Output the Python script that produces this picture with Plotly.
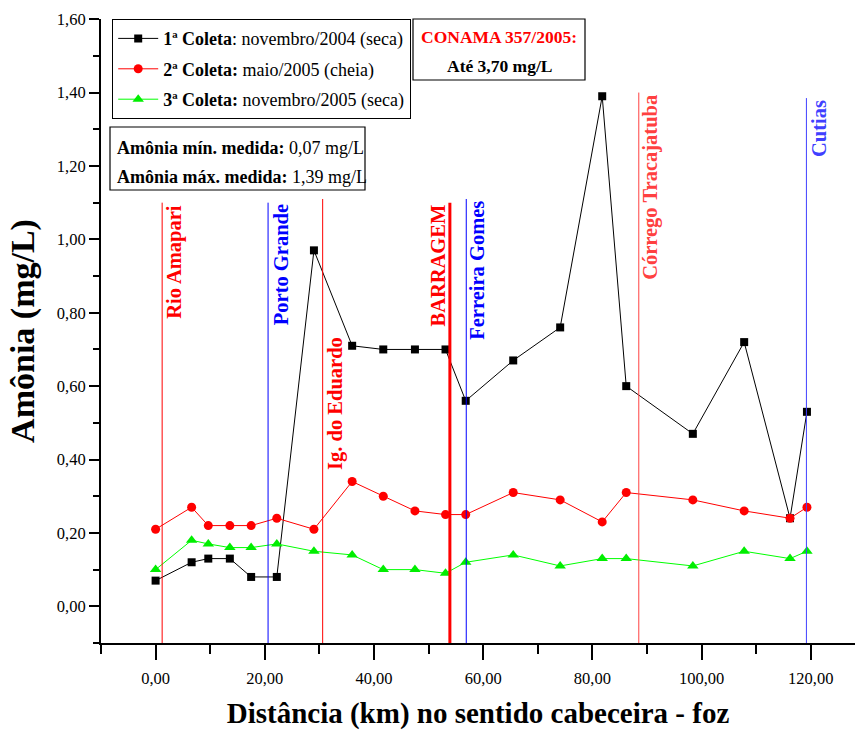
import plotly.graph_objects as go

# Distance from the head waters (km) of each sampling station
km = [0.0, 6.6, 9.65, 13.6, 17.5, 22.2, 29.0, 36.0, 41.7, 47.5,
      53.1, 56.8, 65.5, 74.1, 81.8, 86.2, 98.4, 107.8, 116.2, 119.3]

# Ammonia (mg/L) for each sampling campaign
coleta1 = [0.07, 0.12, 0.13, 0.13, 0.08, 0.08, 0.97, 0.71, 0.70, 0.70,
           0.70, 0.56, 0.67, 0.76, 1.39, 0.60, 0.47, 0.72, 0.24, 0.53]
coleta2 = [0.21, 0.27, 0.22, 0.22, 0.22, 0.24, 0.21, 0.34, 0.30, 0.26,
           0.25, 0.25, 0.31, 0.29, 0.23, 0.31, 0.29, 0.26, 0.24, 0.27]
coleta3 = [0.10, 0.18, 0.17, 0.16, 0.16, 0.17, 0.15, 0.14, 0.10, 0.10,
           0.09, 0.12, 0.14, 0.11, 0.13, 0.13, 0.11, 0.15, 0.13, 0.15]

series_names = [
    "<b>1ª Coleta</b>: novembro/2004 (seca)",
    "<b>2ª Coleta:</b> maio/2005 (cheia)",
    "<b>3ª Coleta:</b> novembro/2005 (seca)",
]

# Reference points along the river (name, km)
landmark_names = ["Rio Amapari", "Porto Grande", "Ig. do Eduardo", "BARRAGEM",
                  "Ferreira Gomes", "Córrego Tracajatuba", "Cutias"]
landmark_km = [1.2, 20.6, 30.6, 53.9, 56.9, 88.5, 119.2]

conama_limit = 3.70

SERIF = "Liberation Serif, Times New Roman, serif"
X_RANGE = [-10, 128.1]
Y_RANGE = [-0.10, 1.6005]

# plot-area pixel geometry (figure is 855 x 731)
W, H = 855, 731
PL, PR, PT, PB = 101, 855, 19, 643


def px(xp):
    return (xp - PL) / (PR - PL)


def py(yp):
    return (PB - yp) / (PB - PT)


def br(v):
    """Number with two decimals and a decimal comma."""
    return f"{v:.2f}".replace(".", ",")


fig = go.Figure()

styles = [
    dict(color="black", symbol="square", size=8),
    dict(color="red", symbol="circle", size=9),
    dict(color="#00ee00", symbol="triangle-up", size=10),
]
line_cols = ["black", "red", "#00ff00"]
for i, (vals, name) in enumerate(zip([coleta1, coleta2, coleta3], series_names)):
    fig.add_trace(go.Scatter(
        x=km, y=vals, mode="lines+markers", name=name,
        legendgroup=f"g{i}",
        line=dict(color=line_cols[i], width=1),
        marker=dict(color=styles[i]["color"], symbol=styles[i]["symbol"],
                    size=styles[i]["size"], line=dict(width=0)),
    ))

# vertical reference lines and their labels
line_style = {
    "Rio Amapari": dict(color="red", width=1, top=1.10, shift=13),
    "Porto Grande": dict(color="blue", width=1, top=1.10, shift=13),
    "Ig. do Eduardo": dict(color="red", width=1, top=1.11, shift=13, label_top=0.74),
    "BARRAGEM": dict(color="red", width=3, top=1.10, shift=-12),
    "Ferreira Gomes": dict(color="blue", width=1, top=1.11, shift=11),
    "Córrego Tracajatuba": dict(color="#ff4040", width=1, top=1.40, shift=11),
    "Cutias": dict(color="#4040ff", width=1, top=1.385, shift=12),
}
for name, k in zip(landmark_names, landmark_km):
    st = line_style[name]
    fig.add_shape(type="line", xref="x", yref="y", x0=k, x1=k,
                  y0=Y_RANGE[0], y1=st["top"],
                  line=dict(color=st["color"], width=st["width"]))
    fig.add_annotation(x=k, y=st.get("label_top", st["top"]), xref="x", yref="y",
                       xshift=st["shift"], text=f"<b>{name}</b>", textangle=-90,
                       xanchor="center", yanchor="top", showarrow=False,
                       font=dict(family=SERIF, size=20.5, color=st["color"]))

# CONAMA limit box
fig.add_shape(type="rect", xref="paper", yref="paper",
              x0=px(413), x1=px(585), y0=py(80), y1=py(19),
              line=dict(color="black", width=1.2), fillcolor="white")
fig.add_annotation(x=px(499), y=py(37), xref="paper", yref="paper",
                   text="<b>CONAMA 357/2005:</b>", showarrow=False,
                   xanchor="center", yanchor="middle",
                   font=dict(family=SERIF, size=17.5, color="red"))
fig.add_annotation(x=px(499), y=py(66), xref="paper", yref="paper",
                   text=f"<b>Até {br(conama_limit)} mg/L</b>",
                   showarrow=False, xanchor="center", yanchor="middle",
                   font=dict(family=SERIF, size=17.5, color="black"))

# measured min / max box
all_vals = coleta1 + coleta2 + coleta3
vmin, vmax = min(all_vals), max(all_vals)
fig.add_shape(type="rect", xref="paper", yref="paper",
              x0=px(110), x1=px(365), y0=py(190), y1=py(127),
              line=dict(color="black", width=1.2), fillcolor="white")
fig.add_annotation(x=px(115), y=py(148), xref="paper", yref="paper",
                   text=f"<b>Amônia mín. medida:</b> {br(vmin)} mg/L",
                   showarrow=False, xanchor="left", yanchor="middle",
                   font=dict(family=SERIF, size=18, color="black"))
fig.add_annotation(x=px(115), y=py(177), xref="paper", yref="paper",
                   text=f"<b>Amônia máx. medida:</b> {br(vmax)} mg/L",
                   showarrow=False, xanchor="left", yanchor="middle",
                   font=dict(family=SERIF, size=18, color="black"))

fig.update_layout(
    width=W, height=H,
    margin=dict(l=PL, r=W - PR, t=PT, b=H - PB),
    paper_bgcolor="white", plot_bgcolor="white",
    separators=",.",
    font=dict(family=SERIF, color="black"),
    showlegend=True,
    legend=dict(x=px(112), y=py(19), xanchor="left", yanchor="top",
                bordercolor="black", borderwidth=1.2, bgcolor="white",
                font=dict(family=SERIF, size=18), tracegroupgap=4,
                itemwidth=40),
    xaxis=dict(
        range=X_RANGE, tick0=0, dtick=20, tickformat=".2f",
        ticks="outside", ticklen=15, tickwidth=1.5, tickcolor="black",
        minor=dict(dtick=10, tick0=0, ticks="outside", ticklen=9,
                   tickwidth=1.5, tickcolor="black"),
        showline=True, linecolor="black", linewidth=2,
        showgrid=False, zeroline=False, ticklabelstandoff=4,
        tickfont=dict(family=SERIF, size=16.5),
        title=dict(text="Distância (km) no sentido cabeceira - foz",
                   font=dict(family=SERIF, size=29, weight="bold"), standoff=16),
    ),
    yaxis=dict(
        range=Y_RANGE, tick0=0, dtick=0.2, tickformat=".2f",
        ticks="outside", ticklen=10, tickwidth=1.5, tickcolor="black",
        minor=dict(dtick=0.1, tick0=0, ticks="outside", ticklen=6,
                   tickwidth=1.5, tickcolor="black"),
        showline=True, linecolor="black", linewidth=2,
        showgrid=False, zeroline=False,
        tickfont=dict(family=SERIF, size=16.5),
        title=dict(text="Amônia (mg/L)",
                   font=dict(family=SERIF, size=34, weight="bold"), standoff=12),
    ),
)

fig.write_html("out.html")
